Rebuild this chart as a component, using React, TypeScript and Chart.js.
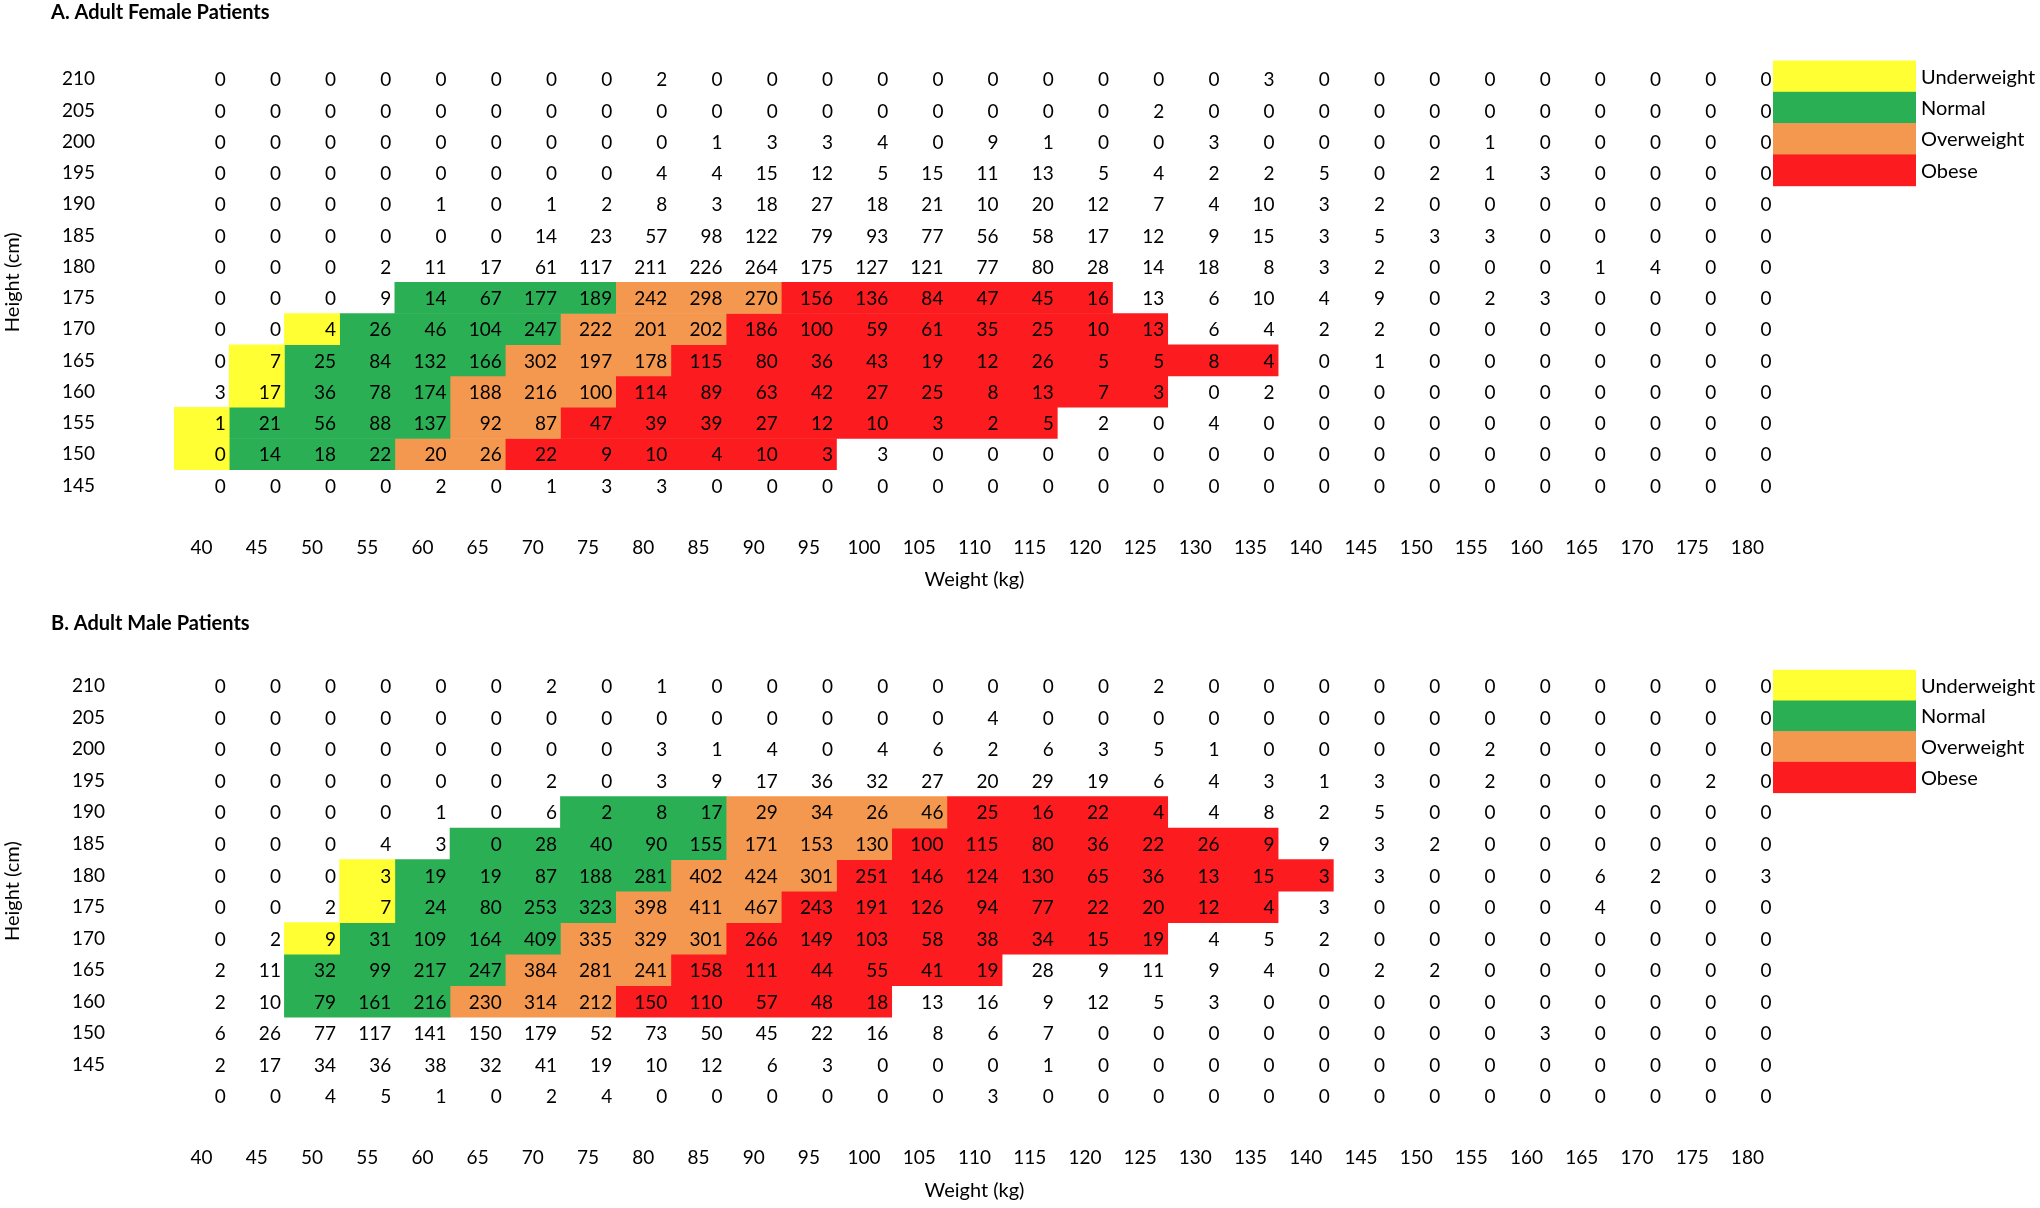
import React, { useEffect, useRef } from 'react';
import { Chart, registerables } from 'chart.js';

Chart.register(...registerables);

// ---------- DATA ----------
const weights = [40, 45, 50, 55, 60, 65, 70, 75, 80, 85, 90, 95, 100, 105, 110, 115, 120, 125, 130, 135, 140, 145, 150, 155, 160, 165, 170, 175, 180];

const categoryLabels = ['Underweight', 'Normal', 'Overweight', 'Obese'];
const categoryColors = ['#FFFF33', '#2BAF54', '#F4974F', '#FC1B1F'];

const femaleHeights = ['210', '205', '200', '195', '190', '185', '180', '175', '170', '165', '160', '155', '150', '145'];
const femaleCounts = [
  [0, 0, 0, 0, 0, 0, 0, 0, 2, 0, 0, 0, 0, 0, 0, 0, 0, 0, 0, 3, 0, 0, 0, 0, 0, 0, 0, 0, 0],
  [0, 0, 0, 0, 0, 0, 0, 0, 0, 0, 0, 0, 0, 0, 0, 0, 0, 2, 0, 0, 0, 0, 0, 0, 0, 0, 0, 0, 0],
  [0, 0, 0, 0, 0, 0, 0, 0, 0, 1, 3, 3, 4, 0, 9, 1, 0, 0, 3, 0, 0, 0, 0, 1, 0, 0, 0, 0, 0],
  [0, 0, 0, 0, 0, 0, 0, 0, 4, 4, 15, 12, 5, 15, 11, 13, 5, 4, 2, 2, 5, 0, 2, 1, 3, 0, 0, 0, 0],
  [0, 0, 0, 0, 1, 0, 1, 2, 8, 3, 18, 27, 18, 21, 10, 20, 12, 7, 4, 10, 3, 2, 0, 0, 0, 0, 0, 0, 0],
  [0, 0, 0, 0, 0, 0, 14, 23, 57, 98, 122, 79, 93, 77, 56, 58, 17, 12, 9, 15, 3, 5, 3, 3, 0, 0, 0, 0, 0],
  [0, 0, 0, 2, 11, 17, 61, 117, 211, 226, 264, 175, 127, 121, 77, 80, 28, 14, 18, 8, 3, 2, 0, 0, 0, 1, 4, 0, 0],
  [0, 0, 0, 9, 14, 67, 177, 189, 242, 298, 270, 156, 136, 84, 47, 45, 16, 13, 6, 10, 4, 9, 0, 2, 3, 0, 0, 0, 0],
  [0, 0, 4, 26, 46, 104, 247, 222, 201, 202, 186, 100, 59, 61, 35, 25, 10, 13, 6, 4, 2, 2, 0, 0, 0, 0, 0, 0, 0],
  [0, 7, 25, 84, 132, 166, 302, 197, 178, 115, 80, 36, 43, 19, 12, 26, 5, 5, 8, 4, 0, 1, 0, 0, 0, 0, 0, 0, 0],
  [3, 17, 36, 78, 174, 188, 216, 100, 114, 89, 63, 42, 27, 25, 8, 13, 7, 3, 0, 2, 0, 0, 0, 0, 0, 0, 0, 0, 0],
  [1, 21, 56, 88, 137, 92, 87, 47, 39, 39, 27, 12, 10, 3, 2, 5, 2, 0, 4, 0, 0, 0, 0, 0, 0, 0, 0, 0, 0],
  [0, 14, 18, 22, 20, 26, 22, 9, 10, 4, 10, 3, 3, 0, 0, 0, 0, 0, 0, 0, 0, 0, 0, 0, 0, 0, 0, 0, 0],
  [0, 0, 0, 0, 2, 0, 1, 3, 3, 0, 0, 0, 0, 0, 0, 0, 0, 0, 0, 0, 0, 0, 0, 0, 0, 0, 0, 0, 0],
];
// weight ranges [from, to] (kg) of each BMI class, per height row
const femaleUnderweight = [null, null, null, null, null, null, null, null, [50, 50], [45, 45], [45, 45], [40, 40], [40, 40], null];
const femaleNormal = [null, null, null, null, null, null, null, [60, 75], [55, 70], [50, 65], [50, 60], [45, 60], [45, 55], null];
const femaleOverweight = [null, null, null, null, null, null, null, [80, 90], [75, 85], [70, 80], [65, 75], [65, 70], [60, 65], null];
const femaleObese = [null, null, null, null, null, null, null, [95, 120], [90, 125], [85, 135], [80, 125], [75, 115], [70, 95], null];

const maleHeights = ['210', '205', '200', '195', '190', '185', '180', '175', '170', '165', '160', '150', '145', ''];
const maleCounts = [
  [0, 0, 0, 0, 0, 0, 2, 0, 1, 0, 0, 0, 0, 0, 0, 0, 0, 2, 0, 0, 0, 0, 0, 0, 0, 0, 0, 0, 0],
  [0, 0, 0, 0, 0, 0, 0, 0, 0, 0, 0, 0, 0, 0, 4, 0, 0, 0, 0, 0, 0, 0, 0, 0, 0, 0, 0, 0, 0],
  [0, 0, 0, 0, 0, 0, 0, 0, 3, 1, 4, 0, 4, 6, 2, 6, 3, 5, 1, 0, 0, 0, 0, 2, 0, 0, 0, 0, 0],
  [0, 0, 0, 0, 0, 0, 2, 0, 3, 9, 17, 36, 32, 27, 20, 29, 19, 6, 4, 3, 1, 3, 0, 2, 0, 0, 0, 2, 0],
  [0, 0, 0, 0, 1, 0, 6, 2, 8, 17, 29, 34, 26, 46, 25, 16, 22, 4, 4, 8, 2, 5, 0, 0, 0, 0, 0, 0, 0],
  [0, 0, 0, 4, 3, 0, 28, 40, 90, 155, 171, 153, 130, 100, 115, 80, 36, 22, 26, 9, 9, 3, 2, 0, 0, 0, 0, 0, 0],
  [0, 0, 0, 3, 19, 19, 87, 188, 281, 402, 424, 301, 251, 146, 124, 130, 65, 36, 13, 15, 3, 3, 0, 0, 0, 6, 2, 0, 3],
  [0, 0, 2, 7, 24, 80, 253, 323, 398, 411, 467, 243, 191, 126, 94, 77, 22, 20, 12, 4, 3, 0, 0, 0, 0, 4, 0, 0, 0],
  [0, 2, 9, 31, 109, 164, 409, 335, 329, 301, 266, 149, 103, 58, 38, 34, 15, 19, 4, 5, 2, 0, 0, 0, 0, 0, 0, 0, 0],
  [2, 11, 32, 99, 217, 247, 384, 281, 241, 158, 111, 44, 55, 41, 19, 28, 9, 11, 9, 4, 0, 2, 2, 0, 0, 0, 0, 0, 0],
  [2, 10, 79, 161, 216, 230, 314, 212, 150, 110, 57, 48, 18, 13, 16, 9, 12, 5, 3, 0, 0, 0, 0, 0, 0, 0, 0, 0, 0],
  [6, 26, 77, 117, 141, 150, 179, 52, 73, 50, 45, 22, 16, 8, 6, 7, 0, 0, 0, 0, 0, 0, 0, 0, 3, 0, 0, 0, 0],
  [2, 17, 34, 36, 38, 32, 41, 19, 10, 12, 6, 3, 0, 0, 0, 1, 0, 0, 0, 0, 0, 0, 0, 0, 0, 0, 0, 0, 0],
  [0, 0, 4, 5, 1, 0, 2, 4, 0, 0, 0, 0, 0, 0, 3, 0, 0, 0, 0, 0, 0, 0, 0, 0, 0, 0, 0, 0, 0],
];
const maleUnderweight = [null, null, null, null, null, null, [55, 55], [55, 55], [50, 50], null, null, null, null, null];
const maleNormal = [null, null, null, null, [75, 85], [65, 85], [60, 80], [60, 75], [55, 70], [50, 65], [50, 60], null, null, null];
const maleOverweight = [null, null, null, null, [90, 105], [90, 100], [85, 95], [80, 90], [75, 85], [70, 80], [65, 75], null, null, null];
const maleObese = [null, null, null, null, [110, 125], [105, 135], [100, 140], [95, 135], [90, 125], [85, 110], [80, 100], null, null, null];

// ---------- RENDERING ----------
const FONT = 'Lato, "Open Sans", "DejaVu Sans", sans-serif';
const FS = 19; // numbers & tick labels
const TFS = 20; // words
const W = 2040;
const H = 604;
const HALF = 2.5; // half of a 5 kg column

type Panel = {
  title: string;
  heights: string[];
  counts: number[][];
  spans: ((number[] | null)[])[];
  areaTop: number;
  areaBottom: number;
  xTitleCenter: number;
  yTickPad: number;
  titleY: number;
  legendTop: number;
  legendRowH: number;
};

const panels: Panel[] = [
  {
    title: 'A. Adult Female Patients',
    heights: femaleHeights,
    counts: femaleCounts,
    spans: [femaleUnderweight, femaleNormal, femaleOverweight, femaleObese],
    areaTop: 63.5,
    areaBottom: 501,
    xTitleCenter: 580,
    yTickPad: 79,
    titleY: 13,
    legendTop: 60.5,
    legendRowH: 31.3,
  },
  {
    title: 'B. Adult Male Patients',
    heights: maleHeights,
    counts: maleCounts,
    spans: [maleUnderweight, maleNormal, maleOverweight, maleObese],
    areaTop: 66.5,
    areaBottom: 507.8,
    xTitleCenter: 586.5,
    yTickPad: 69,
    titleY: 20,
    legendTop: 65.8,
    legendRowH: 30.7,
  },
];

function makeDecorPlugin(p: Panel) {
  return {
    id: 'decor',
    afterDatasetsDraw(chart: any) {
      const { ctx } = chart;
      const x = chart.scales.x;
      const y = chart.scales.y;
      ctx.save();
      // cell values
      ctx.font = `${FS}px ${FONT}`;
      ctx.fillStyle = '#000';
      ctx.textAlign = 'right';
      ctx.textBaseline = 'middle';
      p.counts.forEach((row, i) => {
        const cy = y.getPixelForValue(i) + 1;
        row.forEach((v, j) => {
          const right = x.getPixelForValue(weights[j] + HALF) - 3.5;
          ctx.fillText(String(v), right, cy);
        });
      });
      // panel title
      ctx.font = `bold ${TFS}px ${FONT}`;
      ctx.textAlign = 'left';
      ctx.fillText(p.title, 51, p.titleY);
      // legend
      ctx.font = `${TFS}px ${FONT}`;
      const boxLeft = x.right - 2;
      const boxW = 143;
      chart.data.datasets.forEach((ds: any, k: number) => {
        const top = p.legendTop + k * p.legendRowH;
        ctx.fillStyle = ds.backgroundColor;
        ctx.fillRect(boxLeft, top, boxW, p.legendRowH + 0.5);
        ctx.fillStyle = '#000';
        ctx.fillText(ds.label, boxLeft + boxW + 5, top + p.legendRowH / 2 + 1);
      });
      ctx.restore();
    },
  };
}

function buildConfig(p: Panel): any {
  const datasets = p.spans.map((span, k) => ({
    label: categoryLabels[k],
    data: span.map((s) => (s ? [s[0] - HALF, s[1] + HALF] : null)),
    backgroundColor: categoryColors[k],
    borderWidth: 0,
    grouped: false,
    barPercentage: 1,
    categoryPercentage: 1,
  }));
  const font = { family: FONT, size: FS };
  const tfont = { family: FONT, size: TFS };
  const xAxisHeight = H - p.areaBottom;
  const titleLine = TFS * 1.2;
  return {
    type: 'bar',
    data: { labels: p.heights, datasets },
    options: {
      indexAxis: 'y',
      animation: false,
      responsive: false,
      maintainAspectRatio: false,
      events: [],
      layout: { padding: { top: p.areaTop, bottom: 0, left: 0, right: W - 1775 } },
      plugins: {
        legend: { display: false },
        tooltip: { enabled: false },
        title: { display: false },
      },
      scales: {
        x: {
          type: 'linear',
          position: 'bottom',
          min: weights[0] - HALF,
          max: weights[weights.length - 1] + HALF,
          grid: { display: false, drawTicks: false },
          border: { display: false },
          afterBuildTicks: (axis: any) => {
            axis.ticks = weights.map((v) => ({ value: v }));
          },
          afterFit: (axis: any) => {
            axis.height = xAxisHeight;
            axis.paddingLeft = 0;
            axis.paddingRight = 0;
          },
          ticks: {
            autoSkip: false,
            maxRotation: 0,
            minRotation: 0,
            padding: 35,
            font,
            color: '#000',
            callback: (v: any) => String(v),
          },
          title: {
            display: true,
            text: 'Weight (kg)',
            font: tfont,
            color: '#000',
            padding: { top: 0, bottom: H - p.xTitleCenter - titleLine / 2 },
          },
        },
        y: {
          type: 'category',
          grid: { display: false, drawTicks: false },
          border: { display: false },
          afterFit: (axis: any) => {
            axis.width = 174;
            axis.paddingTop = 0;
            axis.paddingBottom = 0;
          },
          ticks: {
            padding: p.yTickPad,
            font,
            color: '#000',
            autoSkip: false,
          },
          title: {
            display: true,
            text: 'Height (cm)',
            font: tfont,
            color: '#000',
            padding: { top: 1, bottom: 0 },
          },
        },
      },
    },
    plugins: [makeDecorPlugin(p)],
  };
}

function PanelChart({ panel }: { panel: Panel }) {
  const ref = useRef<HTMLCanvasElement | null>(null);
  useEffect(() => {
    if (!ref.current) return;
    const chart = new Chart(ref.current, buildConfig(panel));
    return () => chart.destroy();
  }, [panel]);
  return <canvas ref={ref} width={W} height={H} style={{ display: 'block', width: W, height: H }} />;
}

export default function App() {
  return (
    <div
      style={{
        position: 'absolute',
        left: 0,
        top: 0,
        width: W,
        height: 2 * H,
        background: '#fff',
        overflow: 'hidden',
      }}
    >
      {panels.map((p) => (
        <PanelChart key={p.title} panel={p} />
      ))}
    </div>
  );
}
